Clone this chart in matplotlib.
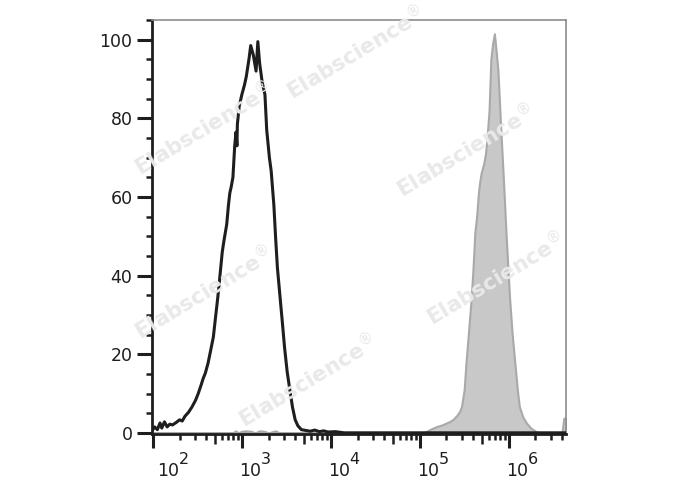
import numpy as np
import matplotlib
matplotlib.use('Agg')
import matplotlib.pyplot as plt
import matplotlib.ticker as ticker

# black histogram (log10 of intensity, % of max)
black_logx = [1.99, 2.02, 2.05, 2.08, 2.10, 2.13, 2.16, 2.19, 2.22, 2.26,
              2.30, 2.33, 2.36, 2.40, 2.44, 2.48, 2.51, 2.54, 2.565, 2.59,
              2.62, 2.65, 2.68, 2.70, 2.73, 2.75, 2.78, 2.80, 2.83, 2.85,
              2.865, 2.88, 2.90, 2.92, 2.935, 2.945, 2.95, 2.97, 3.00, 3.03,
              3.05, 3.08, 3.10, 3.13, 3.16, 3.18, 3.20, 3.23, 3.26, 3.28,
              3.31, 3.33, 3.36, 3.38, 3.40, 3.43, 3.46, 3.48, 3.51, 3.54,
              3.57, 3.60, 3.63, 3.67, 3.72, 3.77, 3.82, 3.87, 3.92, 3.97,
              4.05, 4.15, 6.65]
black_count = [0.5, 1.5, 0.8, 2.5, 1.2, 2.8, 1.5, 2.2, 2.0, 2.6,
               3.3, 3.0, 4.2, 5.2, 6.6, 8.3, 10.0, 12.0, 13.8, 15.2,
               17.7, 21.0, 24.4, 28.5, 34.5, 39.0, 46.0, 49.0, 53.0, 58.0,
               61.0, 62.5, 65.0, 73.0, 76.5, 73.0, 78.5, 83.0, 86.0, 88.5,
               90.6, 95.0, 98.5, 96.0, 92.0, 99.5, 94.0, 89.0, 86.0, 77.0,
               70.0, 66.6, 58.0, 49.6, 42.0, 34.5, 27.0, 21.8, 15.5, 10.9,
               6.5, 3.3, 1.8, 0.8, 0.6, 0.4, 0.7, 0.3, 0.5, 0.2,
               0.3, 0.0, 0.0]

# grey filled histogram
grey_logx = [1.99, 2.90, 2.93, 2.96, 3.00, 3.05, 3.10, 3.15, 3.20, 3.25,
             3.30, 3.38, 3.42, 5.00, 5.07, 5.13, 5.19, 5.25, 5.30, 5.34,
             5.38, 5.42, 5.45, 5.47, 5.50, 5.52, 5.55, 5.58, 5.60, 5.62,
             5.64, 5.66, 5.67, 5.69, 5.72, 5.74, 5.76, 5.78, 5.80, 5.82,
             5.84, 5.86, 5.88, 5.91, 5.94, 5.97, 6.01, 6.04, 6.07, 6.10,
             6.12, 6.16, 6.20, 6.25, 6.31, 6.36, 6.60, 6.62, 6.65]
grey_count = [0.0, 0.0, 0.5, 0.0, 0.4, 0.5, 0.4, 0.0, 0.5, 0.4,
              0.0, 0.5, 0.0, 0.0, 0.3, 1.0, 1.6, 2.0, 2.5, 2.9,
              3.5, 4.5, 5.5, 6.7, 11.0, 17.7, 26.0, 34.5, 42.0, 51.0,
              55.0, 61.0, 63.0, 66.0, 68.5, 71.0, 76.0, 82.0, 95.0, 99.0,
              101.5, 97.0, 92.0, 78.0, 65.0, 51.0, 34.5, 25.0, 17.7, 10.5,
              6.7, 4.0, 2.5, 1.2, 0.3, 0.0, 0.0, 3.7, 3.7]

decades = [2, 3, 4, 5, 6]
ylabels = ['0', '20', '40', '60', '80', '100']

fig = plt.figure(figsize=(6.88, 4.9), dpi=100)
ax = fig.add_axes([152/688, 1 - 434/490, 414/688, 414/490])

# watermarks
wm = [(355, 52), (203, 128), (465, 150), (203, 292), (495, 278), (307, 380)]
for (px, py) in wm:
    fig.text(px/688, 1 - py/490, 'Elabscience$^{®}$', color='#e9e9e9',
             fontsize=15.5, fontweight='bold', rotation=31,
             ha='center', va='center', zorder=0)
ax.patch.set_alpha(0)

gx = 10**np.array(grey_logx)
bx = 10**np.array(black_logx)
ax.fill_between(gx, grey_count, 0, facecolor='#c8c8c8', edgecolor='#a9a9a9',
                linewidth=1.5, zorder=2)
ax.plot(bx, black_count, color='#1e1e1e', linewidth=2.2, zorder=3)

ax.set_xscale('log')
ax.set_xlim(10**1.99, 10**6.645)
ax.set_ylim(-0.3, 105)

ax.xaxis.set_major_locator(ticker.FixedLocator([10.0**d for d in decades]))
ax.xaxis.set_minor_locator(ticker.LogLocator(base=10, subs=[2, 3, 4, 6, 7, 8, 9], numticks=20))
ax.xaxis.set_major_formatter(ticker.NullFormatter())
ax.xaxis.set_minor_formatter(ticker.NullFormatter())
ax.yaxis.set_minor_locator(ticker.MultipleLocator(5))
ax.set_yticks([0, 20, 40, 60, 80, 100])
ax.set_yticklabels(ylabels)

ax.tick_params(axis='both', which='major', length=10, width=2.2, color='#1e1e1e',
               labelsize=12.5, labelcolor='#1e1e1e', pad=3)
ax.tick_params(axis='both', which='minor', length=4.5, width=1.8, color='#1e1e1e')
ax.tick_params(axis='y', which='major', length=11)

# medium ticks at 5 x 10^n
sec = ax.secondary_xaxis('bottom')
sec.set_xticks([5*10.0**d for d in [2, 3, 4, 5, 6]])
sec.tick_params(length=7, width=1.8, color='#1e1e1e', labelbottom=False)
sec.spines['bottom'].set_visible(False)

for s in ['left', 'bottom']:
    ax.spines[s].set_linewidth(2.0)
    ax.spines[s].set_color('#1e1e1e')
for s in ['top', 'right']:
    ax.spines[s].set_linewidth(1.2)
    ax.spines[s].set_color('#8c8c8c')

# decade labels with big superscripts
for d in decades:
    dx = 15 if d == 2 else 8
    ax.annotate('10', xy=(10.0**d, 0), xycoords=('data', 'axes fraction'),
                xytext=(dx, -37), textcoords='offset pixels',
                ha='center', va='center', fontsize=12.5, color='#1e1e1e',
                annotation_clip=False)
    ax.annotate(str(d), xy=(10.0**d, 0), xycoords=('data', 'axes fraction'),
                xytext=(dx + 16, -26), textcoords='offset pixels',
                ha='center', va='center', fontsize=11.5, color='#1e1e1e',
                annotation_clip=False)

fig.savefig('out.png', dpi=100)
